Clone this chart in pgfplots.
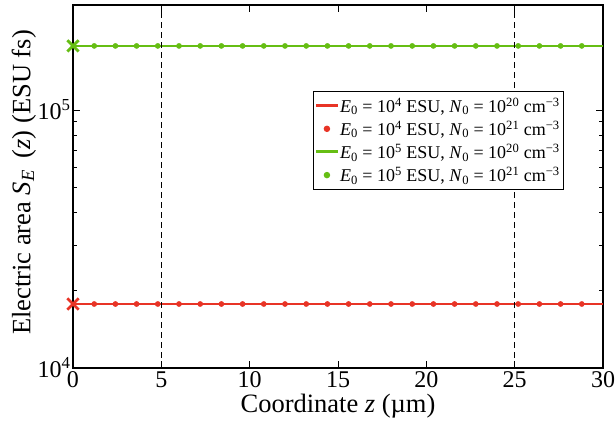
\documentclass[border=0pt]{standalone}
\usepackage{fontspec}
\setmainfont{Liberation Serif}
\usepackage{pgfplots}
\usepackage{pgfplotstable}
\pgfplotsset{compat=1.18}
\definecolor{cred}{RGB}{232,52,38}
\definecolor{cgreen}{RGB}{102,190,20}
\newcommand{\sub}[1]{\textsubscript{#1}}
\newcommand{\sups}[1]{\textsuperscript{#1}}
\pgfplotstableread{
z red green
1.2 17700 177000
2.4 17700 177000
3.6 17700 177000
4.8 17700 177000
6.0 17700 177000
7.2 17700 177000
8.4 17700 177000
9.6 17700 177000
10.8 17700 177000
12.0 17700 177000
13.2 17700 177000
14.4 17700 177000
15.6 17700 177000
16.8 17700 177000
18.0 17700 177000
19.2 17700 177000
20.4 17700 177000
21.6 17700 177000
22.8 17700 177000
24.0 17700 177000
25.2 17700 177000
26.4 17700 177000
27.6 17700 177000
28.8 17700 177000
}\dotdata
\begin{document}
\begin{tikzpicture}
\begin{axis}[
  at={(0,0)}, anchor=south west,
  scale only axis,
  width=530pt, height=363pt,
  ymode=log,
  xmin=0, xmax=30, ymin=1e4, ymax=2.55e5,
  xtick={0,5,...,30},
  ytick={1e4,1e5},
  yticklabels={10\sups{4},10\sups{5}},
  /pgf/number format/assume math mode=true,
  tick align=inside,
  major tick length=7pt,
  minor tick length=4pt,
  axis line style={line width=1.3pt},
  every tick/.style={black, line width=0.6pt},
  tick label style={font=\fontsize{24}{26}\selectfont},
  yticklabel style={xshift=1pt},
  label style={font=\fontsize{26.5}{28}\selectfont},
  xlabel={Coordinate \textit{z} (µm)},
  ylabel={Electric area \textit{S}\sub{\textit{E}}\hspace{0.45em}(\textit{z}) (ESU fs)},
  xlabel style={at={(axis description cs:0.5,0)}, anchor=north, inner sep=0pt, yshift=-26pt},
  ylabel style={at={(axis description cs:-0.0925,0.511)}, anchor=center, inner sep=0pt},
  legend style={at={(rel axis cs:0.453,0.763)}, anchor=north west,
    font=\fontsize{18}{20}\selectfont, draw=black, line width=1.2pt,
    inner xsep=2pt, inner ysep=4pt, row sep=3pt},
  legend cell align=left,
]
\addplot[cred, line width=1.5pt,
  legend image code/.code={\path (0pt,0pt); \fill[cred] (0pt,-0.75pt) rectangle (21pt,0.75pt);}]
  coordinates {(0,17700) (30,17700)};
\addlegendentry{\textit{E}\sub{0} = 10\sups{4} ESU, \textit{N}\sub{0} = 10\sups{20} cm\sups{−3}}
\addplot[cred, only marks, mark=*, mark size=2.6pt,
  legend image code/.code={\fill[cred] (10.5pt,0pt) circle (2.6pt);}]
  table[x=z,y=red] {\dotdata};
\addlegendentry{\textit{E}\sub{0} = 10\sups{4} ESU, \textit{N}\sub{0} = 10\sups{21} cm\sups{−3}}
\addplot[cgreen, line width=1.5pt,
  legend image code/.code={\fill[cgreen] (0pt,-0.75pt) rectangle (21pt,0.75pt);}]
  coordinates {(0,177000) (30,177000)};
\addlegendentry{\textit{E}\sub{0} = 10\sups{5} ESU, \textit{N}\sub{0} = 10\sups{20} cm\sups{−3}}
\addplot[cgreen, only marks, mark=*, mark size=2.6pt,
  legend image code/.code={\fill[cgreen] (10.5pt,0pt) circle (2.6pt);}]
  table[x=z,y=green] {\dotdata};
\addlegendentry{\textit{E}\sub{0} = 10\sups{5} ESU, \textit{N}\sub{0} = 10\sups{21} cm\sups{−3}}
\addplot[cred, only marks, mark=x, mark size=8pt, line width=2.8pt, forget plot] coordinates {(0,17700)};
\addplot[cgreen, only marks, mark=x, mark size=8pt, line width=2.8pt, forget plot] coordinates {(0,177000)};
\addplot[black, dash pattern=on 6pt off 4pt, line width=0.9pt, forget plot] coordinates {(5,1e4) (5,2.55e5)};
\addplot[black, dash pattern=on 6pt off 4pt, line width=0.9pt, forget plot] coordinates {(25,1e4) (25,2.55e5)};
\end{axis}
\pgfresetboundingbox
\path (-73pt,-64pt) rectangle (543pt,368pt);
\end{tikzpicture}
\end{document}
